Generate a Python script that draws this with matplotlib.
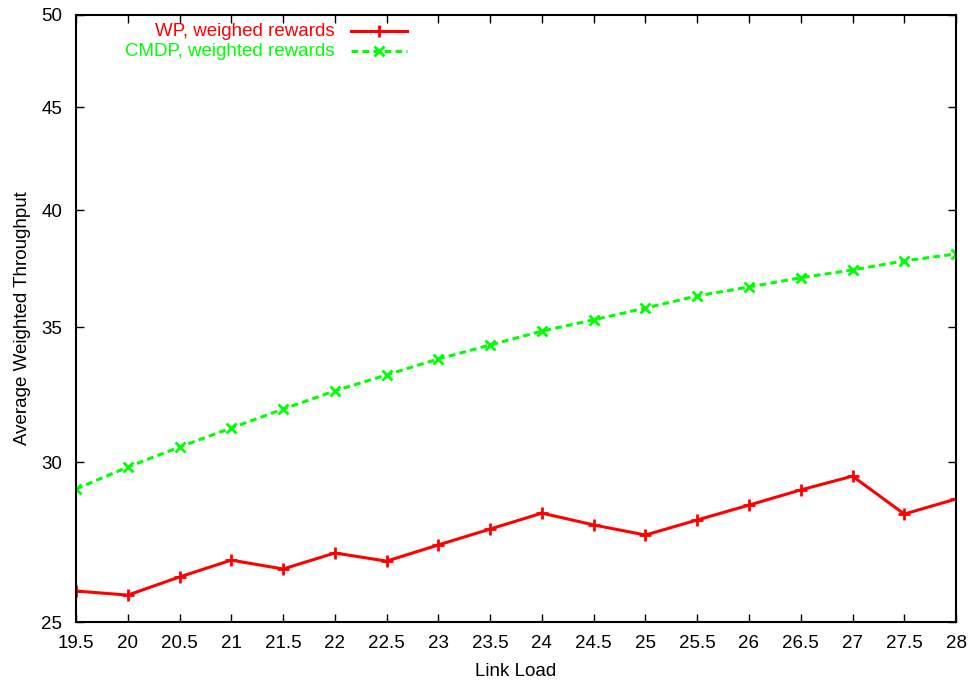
import matplotlib
matplotlib.use("Agg")
import matplotlib.pyplot as plt
from matplotlib.ticker import FixedLocator, NullLocator, FixedFormatter

plt.rcParams['font.family'] = ['Liberation Sans', 'DejaVu Sans']

# datos
carga = [19.5, 20, 20.5, 21, 21.5, 22, 22.5, 23, 23.5, 24,
         24.5, 25, 25.5, 26, 26.5, 27, 27.5, 28]
wp = [25.90, 25.78, 26.32, 26.83, 26.56, 27.05, 26.80, 27.30, 27.80, 28.31,
      27.93, 27.61, 28.09, 28.57, 29.07, 29.53, 28.28, 28.77]
cmdp = [29.10, 29.84, 30.53, 31.20, 31.88, 32.55, 33.15, 33.76, 34.30, 34.85,
        35.30, 35.78, 36.28, 36.65, 37.04, 37.37, 37.76, 38.06]
yticks = [25, 30, 35, 40, 45, 50]
xticks = carga
etiquetas = ['WP, weighed rewards', 'CMDP, weighted rewards']

fig = plt.figure(figsize=(9.71, 6.87), dpi=100)
ax = fig.add_axes([0.0783, 0.0946, 0.9063, 0.8836])

rojo = '#ff0000'
verde = '#00ff00'
discontinua = (0, (2.2, 1.4))
ax.plot(carga, wp, color=rojo, lw=2.2, marker='+', ms=8, mew=2)
ax.plot(carga, cmdp, color=verde, lw=2.2, ls=discontinua, marker='x', ms=7, mew=2)

ax.set_yscale('log')
ax.set_ylim(25, 50)
ax.set_xlim(19.5, 28)
ax.yaxis.set_major_locator(FixedLocator(yticks))
ax.yaxis.set_major_formatter(FixedFormatter([str(v) for v in yticks]))
ax.yaxis.set_minor_locator(NullLocator())
ax.set_xticks(xticks)
ax.set_xticklabels([f'{v:g}' for v in xticks])

ax.tick_params(direction='in', length=6, width=1, top=True, right=True,
               labelsize=13.5)
ax.tick_params(axis='y', pad=10)
ax.tick_params(axis='x', pad=9)
for s in ax.spines.values():
    s.set_linewidth(1.5)

ax.set_xlabel('Link Load', fontsize=13.5, labelpad=8)
ax.set_ylabel('Average Weighted Throughput', fontsize=13.5, labelpad=7)

# leyenda estilo gnuplot: texto alineado a la derecha, muestra a la derecha
estilos = [dict(color=rojo, lw=2.2, ls='-', marker='+', ms=8, mew=2),
           dict(color=verde, lw=2.2, ls=discontinua, marker='x', ms=7, mew=2)]
fil_y = [0.973, 0.940]
for etiq, est, yy in zip(etiquetas, estilos, fil_y):
    ax.text(0.294, yy, etiq, transform=ax.transAxes, ha='right', va='center',
            fontsize=13.5, color=est['color'])
    ax.plot([0.313, 0.376], [yy, yy], transform=ax.transAxes, clip_on=False,
            color=est['color'], lw=est['lw'], ls=est['ls'])
    ax.plot([0.3445], [yy], transform=ax.transAxes, clip_on=False,
            color=est['color'], marker=est['marker'], ms=est['ms'], mew=est['mew'])

fig.savefig('out.png', dpi=100)
